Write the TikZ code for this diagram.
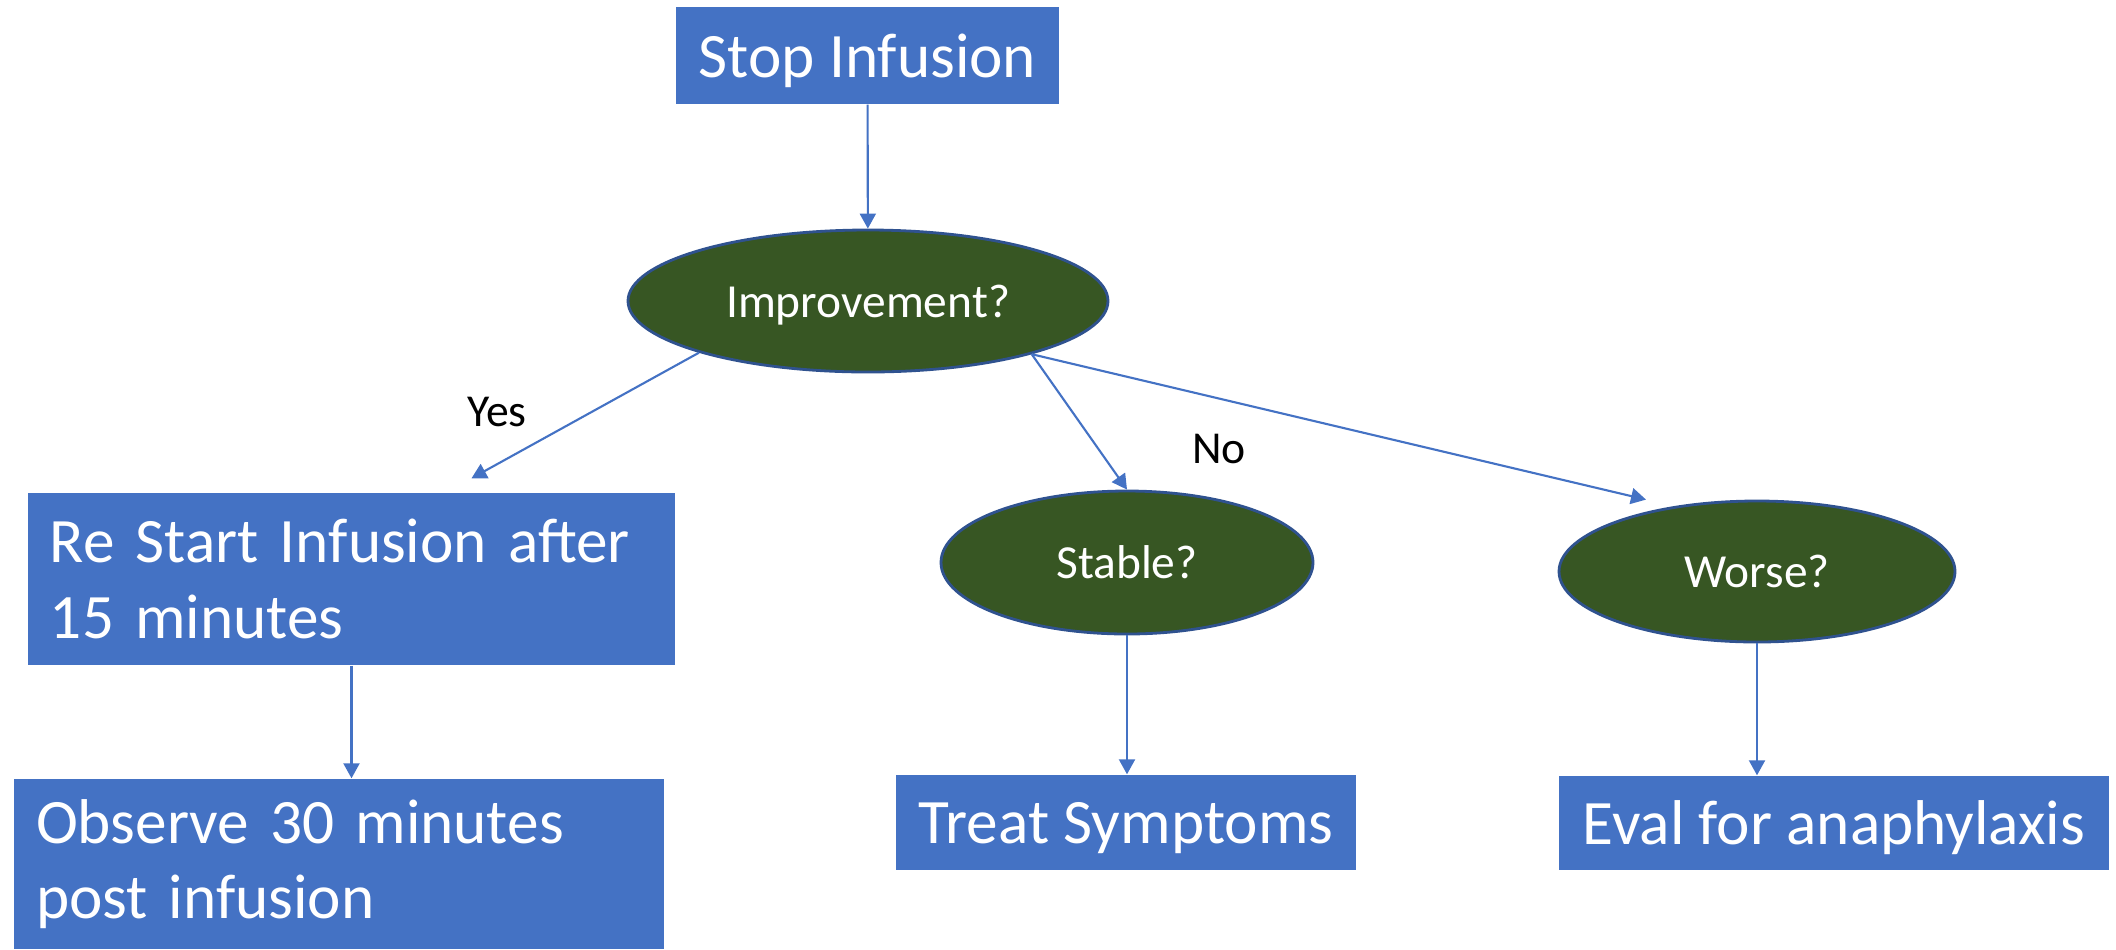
\documentclass[tikz,border=0pt]{standalone}
\usepackage{fontspec}
\setmainfont{Carlito}
\usepackage{tikz}
\usetikzlibrary{shapes.geometric, arrows.meta, calc}

\definecolor{boxblue}{HTML}{4472C4}
\definecolor{rimblue}{HTML}{2F528F}
\definecolor{darkgreen}{HTML}{375623}

\begin{document}
\begin{tikzpicture}[
        stepbox/.style={rectangle, fill=boxblue, text=white, inner sep=0pt, text depth=0pt, font=\fontsize{18}{21.5}\selectfont},
        textbox/.style={stepbox, text depth=, align=left, inner xsep=0.22cm},
        decision/.style={ellipse, draw=rimblue, line width=0.8pt, fill=darkgreen, text=white, inner sep=0pt, text depth=0pt, font=\fontsize{13.5}{16}\selectfont},
        flow/.style={-{Triangle[length=0.15cm, width=0.16cm]}, draw=boxblue, line width=0.6pt},
        answer/.style={font=\fontsize{13}{15}\selectfont}
    ]

    \useasboundingbox (0,0) rectangle (21.16,-9.49);

    % Boxes and decisions - positioned with coordinates
    \node[stepbox, minimum width=3.83cm, minimum height=0.97cm] (stop) at (8.675,-0.555) {Stop Infusion};
    \node[decision, minimum width=4.80cm, minimum height=1.42cm] (improve) at (8.68,-3.01) {Improvement?};
    \node[textbox, minimum width=6.47cm, minimum height=1.72cm, text width=6.03cm] (restart) at (3.515,-5.79) {Re Start Infusion after\\15 minutes};
    \node[textbox, minimum width=6.48cm, minimum height=1.70cm, text width=6.06cm] (observe) at (3.39,-8.64) {Observe 30 minutes\\post infusion};
    \node[decision, minimum width=3.72cm, minimum height=1.43cm] (stable) at (11.27,-5.625) {Stable?};
    \node[decision, minimum width=3.96cm, minimum height=1.41cm] (worse) at (17.57,-5.715) {Worse?};
    \node[stepbox, minimum width=4.60cm, minimum height=0.95cm] (treat) at (11.26,-8.225) {Treat Symptoms};
    \node[stepbox, minimum width=5.50cm, minimum height=0.94cm] (eval) at (18.34,-8.23) {Eval for anaphylaxis};

    % Answers
    \node[answer] (yes) at (4.97,-4.12) {Yes};
    \node[answer] (no) at (12.19,-4.49) {No};

    % Connectors
    \draw[flow] (stop) -- (improve);
    \draw[flow] (improve.197) -- ([xshift=1.2cm, yshift=0.14cm]restart.north);
    \draw[flow] (improve.342) -- (stable.north);
    \draw[flow] (improve.342) -- ([xshift=-1.11cm]worse.north);
    \draw[flow] (restart) -- (restart |- observe.north);
    \draw[flow] (stable) -- (stable |- treat.north);
    \draw[flow] (worse) -- (worse |- eval.north);

\end{tikzpicture}
\end{document}
